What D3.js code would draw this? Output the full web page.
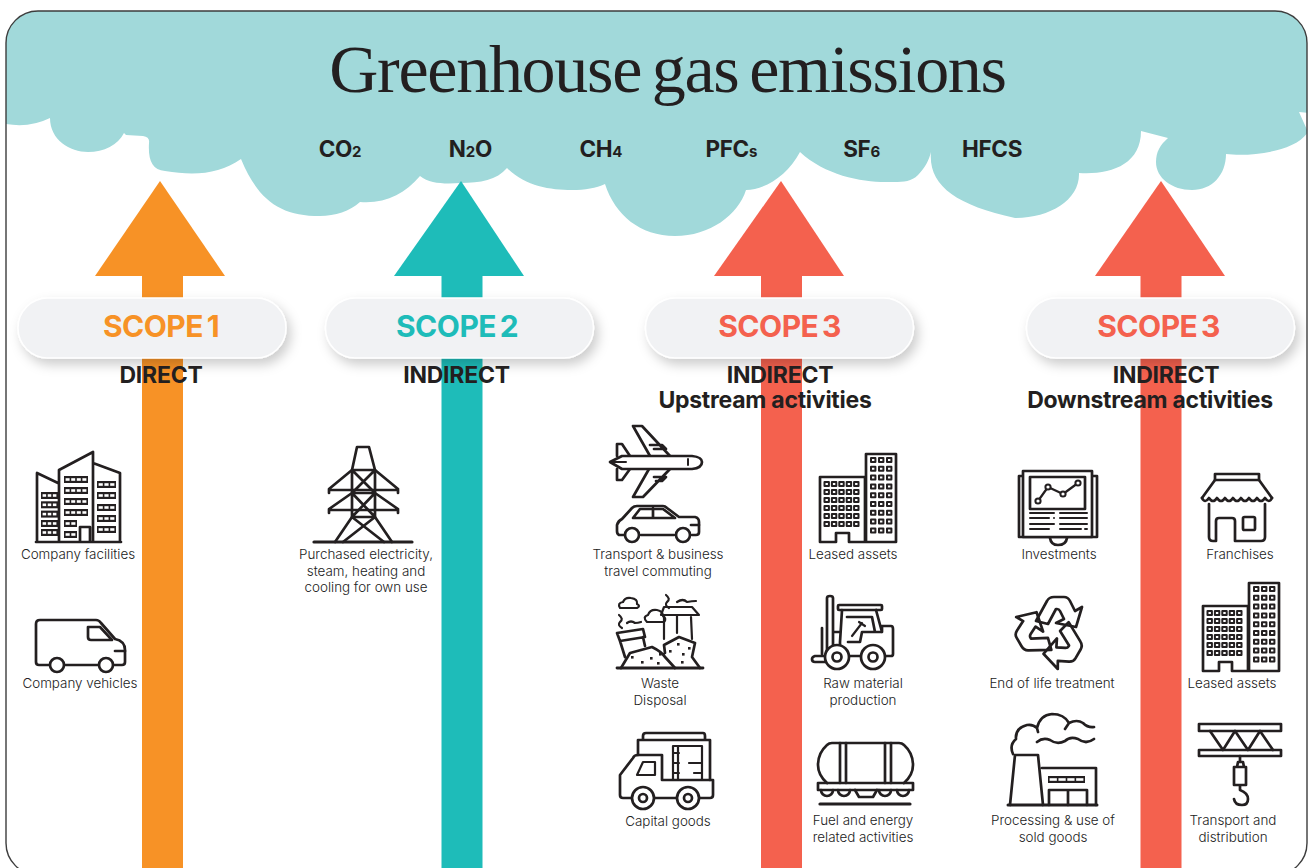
<!DOCTYPE html>
<html>
<head>
<meta charset="utf-8">
<style>
  html, body { margin: 0; background: #fff; }
  svg { display: block; }
</style>
<script src="https://cdn.jsdelivr.net/npm/d3@7"></script>
</head>
<body>
<script>
// values
const title = "Greenhouse gas emissions";
const gases = [["CO", "2"], ["N", "2", "O"], ["CH", "4"], ["PFC", "s"], ["SF", "6"], ["HFCS"]];
const scopes = ["s1", "s2", "s3up", "s3down"];
const scopeNames = ["SCOPE 1", "SCOPE 2", "SCOPE 3", "SCOPE 3"];
const scopeKinds = [["DIRECT"], ["INDIRECT"], ["INDIRECT", "Upstream activities"], ["INDIRECT", "Downstream activities"]];
const scopeColors = ["#f79226", "#1ebcb9", "#f4614e", "#f4614e"];
const items = [
  ["Company facilities"],
  ["Company vehicles"],
  ["Purchased electricity,", "steam, heating and", "cooling for own use"],
  ["Transport & business", "travel commuting"],
  ["Waste", "Disposal"],
  ["Capital goods"],
  ["Leased assets"],
  ["Raw material", "production"],
  ["Fuel and energy", "related activities"],
  ["Investments"],
  ["End of life treatment"],
  ["Processing & use of", "sold goods"],
  ["Franchises"],
  ["Leased assets"],
  ["Transport and", "distribution"],
];

const width = 1309;
const height = 868;
const ink = "#231f20";

const svg = d3.select("body").append("svg").attr("width", width).attr("height", height);
const defs = svg.append("defs");

const shadow = defs.append("filter").attr("id", "pillShadow")
  .attr("x", "-10%").attr("y", "-30%").attr("width", "120%").attr("height", "170%");
shadow.append("feDropShadow").attr("dx", 4).attr("dy", 6).attr("stdDeviation", 6)
  .attr("flood-color", "#000").attr("flood-opacity", 0.2);

const frame = { x: 6, y: 11, w: 1301, h: 864, r: 32 };
defs.append("clipPath").attr("id", "frameClip").append("rect")
  .attr("x", frame.x).attr("y", frame.y).attr("width", frame.w).attr("height", frame.h).attr("rx", frame.r);

// scales for the arrows and gas labels
const tipX = d3.scaleOrdinal().domain(scopes).range([160, 461, 781, 1161]);
const headX = d3.scaleOrdinal().domain(scopes).range([160, 459, 779, 1160]);
const shaftX = d3.scaleOrdinal().domain(scopes).range([162.5, 462, 781.5, 1161]);
const pillX = d3.scaleOrdinal().domain(scopes).range([152, 459.5, 779.5, 1160.5]);
const nameX = d3.scaleOrdinal().domain(scopes).range([161, 457, 779.5, 1158.5]);
const color = d3.scaleOrdinal().domain(scopes).range(scopeColors);
const gasX = d3.scalePoint().domain(gases.map((d) => d.join(""))).range([340, 992]);

const page = svg.append("g").attr("clip-path", "url(#frameClip)");

// cloud
page.append("path")
  .attr("fill", "#a1d9da")
  .attr("d", "M0 124 L6 124 Q30 128 50 118 C50 140 70 152 88 152 C104 152 118 145 124 133 L126 135 L143 136 Q150 137 149 143 " +
    "C148 160 152 170 165 171 C195 176 220 174 241 159 C258 200 280 216 320 216 C335 216 350 211 360 202 " +
    "C385 204 405 194 420 176 C430 184 445 184 461 183 C480 183 497 180 507 168 C525 186 550 190 572 190 " +
    "C585 190 596 188 605 184 C615 215 640 236 675 236 C710 236 738 215 746 190 C765 190 788 175 800 152 " +
    "C825 175 860 182 886 182 C900 182 910 183 918 175 C925 168 929 160 931 152 C928 185 955 205 1015 218 " +
    "C1050 218 1080 200 1079 173 C1110 175 1141 165 1141 131 L1168 138 C1160 145 1156 152 1156 162 " +
    "C1156 178 1172 190 1192 190 C1212 190 1226 175 1226 154 C1250 157 1295 152 1308 132 L1299 112 L1320 114 L1320 0 L0 0 Z");

// arrows
const arrowLine = d3.line();
const arrows = page.selectAll("g.arrow").data(scopes).enter().append("g").attr("class", "arrow");
arrows.append("path")
  .attr("fill", (d) => color(d))
  .attr("d", (d) => arrowLine([[tipX(d), 181], [headX(d) + 65, 276], [headX(d) - 65, 276]]) + "Z");
arrows.append("rect")
  .attr("x", (d) => shaftX(d) - 20.5)
  .attr("y", 275)
  .attr("width", 41)
  .attr("height", height - 275)
  .attr("fill", (d) => color(d));

// pills
const pills = page.selectAll("g.pill").data(scopes).enter().append("g").attr("class", "pill");
pills.append("rect")
  .attr("x", (d) => pillX(d) - 134)
  .attr("y", 298)
  .attr("width", 268)
  .attr("height", 60)
  .attr("rx", 30)
  .attr("fill", "#f1f2f4")
  .attr("stroke", "#fff")
  .attr("stroke-width", 1.5)
  .attr("filter", "url(#pillShadow)");

const labelFont = "Inter, 'Noto Sans', sans-serif";

pills.append("text")
  .attr("x", (d) => nameX(d))
  .attr("y", 337)
  .attr("text-anchor", "middle")
  .attr("font-family", labelFont)
  .attr("font-weight", 700)
  .attr("font-size", 30)
  .attr("letter-spacing", -0.5)
  .attr("word-spacing", -3)
  .attr("fill", (d) => color(d))
  .text((d, i) => scopeNames[i]);

// title and gases
page.append("text")
  .attr("x", 667.5).attr("y", 92)
  .attr("text-anchor", "middle")
  .attr("font-family", "'Liberation Serif', serif")
  .attr("font-size", 68)
  .attr("letter-spacing", -1.3)
  .attr("word-spacing", -5)
  .attr("fill", ink)
  .text(title);

const gasText = page.selectAll("text.gas").data(gases).enter().append("text")
  .attr("class", "gas")
  .attr("x", (d) => gasX(d.join("")))
  .attr("y", 157)
  .attr("text-anchor", "middle")
  .attr("font-family", labelFont)
  .attr("font-weight", 700)
  .attr("font-size", 22.5)
  .attr("letter-spacing", -0.3)
  .attr("fill", ink);
gasText.each(function (d) {
  const t = d3.select(this);
  d.forEach((part) => {
    const small = /^[0-9s]$/.test(part);
    t.append("tspan").attr("font-size", small ? 15 : null).text(part);
  });
});

// DIRECT / INDIRECT headings
const kindCx = [[161], [456.5], [780, 765], [1166, 1150]];
scopes.forEach((s, i) => {
  scopeKinds[i].forEach((line, j) => {
    page.append("text")
      .attr("x", kindCx[i][j])
      .attr("y", 383 + j * 25)
      .attr("text-anchor", "middle")
      .attr("font-family", labelFont)
      .attr("font-weight", 700)
      .attr("font-size", 23)
      .attr("letter-spacing", -0.25)
      .attr("fill", ink)
      .text(line);
  });
});

// item captions, in the order of items
const itemCx = [78, 80, 366, 658, 660, 668, 853, 863, 863, 1059, 1052, 1053, 1240, 1232, 1233];
const itemY = [559, 688, 559, 559, 688, 826, 559, 688, 825, 559, 688, 825, 559, 688, 825];
items.forEach((lines, i) => {
  lines.forEach((line, j) => {
    page.append("text")
      .attr("x", itemCx[i])
      .attr("y", itemY[i] + j * 16.7)
      .attr("text-anchor", "middle")
      .attr("font-family", labelFont)
      .attr("font-weight", 300)
      .attr("font-size", 13.4)
      .attr("fill", "#222")
      .text(line);
  });
});

// icon helpers
function icon(x, y) {
  return page.append("g").attr("transform", "translate(" + x + "," + y + ")")
    .attr("fill", "none").attr("stroke", ink).attr("stroke-width", 2.7)
    .attr("stroke-linejoin", "round").attr("stroke-linecap", "round");
}
const line = (g, d, w) => g.append("path").attr("d", d).attr("stroke-width", w || null);
const wheel = (g, cx, cy, r, inner) => {
  g.append("circle").attr("cx", cx).attr("cy", cy).attr("r", r).attr("fill", "#fff");
  if (inner) g.append("circle").attr("cx", cx).attr("cy", cy).attr("r", inner);
};
function windowRow(g, x, y, w, cells) {
  g.append("rect").attr("x", x).attr("y", y).attr("width", w).attr("height", 7).attr("fill", ink).attr("stroke", "none");
  const step = (w - 1.6) / cells;
  d3.range(cells).forEach((k) => {
    g.append("rect").attr("x", x + 1.6 + k * step).attr("y", y + 2.2).attr("width", step - 1.6).attr("height", 2.6)
      .attr("fill", "#fff").attr("stroke", "none");
  });
}
function tower(g) {
  line(g, "M1 22 L22 32 M1 91 V22 M23 91 V19 L57 1 V91 M57 12 L84 22 V91 M0 91 H85 M44 91 V76 H54 V91");
  [41, 50.3, 59.6, 69, 78].forEach((y) => windowRow(g, 5, y, 17, 3));
  [25, 36, 47, 58].forEach((y) => windowRow(g, 28, y, 24, 4));
  [69, 80].forEach((y) => windowRow(g, 28, y, 13, 2));
  [30, 41, 53, 64, 75].forEach((y) => windowRow(g, 61, y, 19, 3));
}
function leased(g) {
  line(g, "M46 89 V24 H1 V89 H17 V80 H30 V89 H46 M47 89 V1 H77 V89 Z");
  g.append("g").selectAll("rect").data(d3.cross(d3.range(5), d3.range(6))).enter().append("rect")
    .attr("x", (d) => 5.5 + d[0] * 7.4).attr("y", (d) => 29 + d[1] * 8)
    .attr("width", 4.4).attr("height", 4).attr("stroke-width", 2);
  g.append("g").selectAll("rect").data(d3.cross(d3.range(3), d3.range(9))).enter().append("rect")
    .attr("x", (d) => 52 + d[0] * 8).attr("y", (d) => 5 + d[1] * 8.8)
    .attr("width", 4.4).attr("height", 4).attr("stroke-width", 2);
}

// company facilities
tower(icon(36, 451));

// company vehicles
const van = icon(36, 618);
line(van, "M14 47 H3 Q0 47 0 44 V6 Q0 2 4 2 H60 Q63 2 65 5 L79 21 Q89 23 89 32 V44 Q89 47 86 47 H77 M63 47 H28");
line(van, "M52 9 H64 L76 22 H55 Q52 22 52 19 Z M79 33 H89");
wheel(van, 21, 47, 7);
wheel(van, 70, 47, 7);

// pylon
const pylon = icon(314, 446);
line(pylon, "M38 24 L43 1 H55 L61 24 M38 24 H61 V71 H38 Z M38 47 H61 M38 24 L61 47 M61 24 L38 47 M38 47 L61 71 M61 47 L38 71");
line(pylon, "M38 24 L15 43 V47 M15 44 H84 V47 M61 24 L84 43 M38 47 L15 63 V67 M15 64 H84 V67 M61 47 L84 63");
line(pylon, "M38 71 L21 96 M61 71 L78 96 M38 71 L70 96 M61 71 L29 96");
line(pylon, "M0 96 H98", 3.2);

// plane
const plane = icon(610, 425);
line(plane, "M7 31 L7 19 H12 L20 31 M7 44 V55 H12 L20 44");
line(plane, "M40 31 L23 1 H32 L60 31 M39 44 L23 72 H33 L60 44 M44 24 H56 L52 20 H40 M44 52 H56 L52 56 H46");
plane.append("path").attr("d", "M0 37 L12 31 H82 Q92 32 92 37 Q92 43 82 44 H12 Z").attr("fill", "#fff");
line(plane, "M78 34 V40 M2 37 H16", 2);

// car
const car = icon(617, 505);
line(car, "M8 30 H2 Q0 29 0 26 V20 Q1 16 5 14 L15 3 Q17 1 20 1 H46 Q48 1 50 3 L62 12 H78 Q82 13 82 17 V27 Q82 30 79 30 H75 M57 30 H24");
line(car, "M16 13 L23 4 H46 L58 13 Z M36 3 V13 M74 20 H82");
wheel(car, 15, 30, 7);
wheel(car, 66, 30, 7);

// waste
const waste = icon(617, 595);
line(waste, "M0 73 H86", 2.8);
line(waste, "M4 73 L13 58 L35 52 Q45 57 48 62 L58 73 M48 58 L47 50 L62 42 L78 48 L75 62 L83 73");
line(waste, "M0 38 L26 34 L28 42 L3 46 Z M3 46 L8 62 M26 42 L28 51");
line(waste, "M47 44 V22 M60 20 V38 M74 22 L75 44 M47 12 H75 L82 20 H44 Z", 2.2);
line(waste, "M3 13 Q0 8 6 7 Q8 2 14 3 Q21 4 20 9 Q24 11 20 13 Z M30 27 Q25 22 31 20 Q33 14 40 15 Q46 16 46 21 Q50 24 47 27 Z", 2.2);
line(waste, "M49 0 Q54 4 50 7 Q47 10 52 13 M2 20 Q7 24 3 27 Q0 30 5 33 M60 7 Q66 3 70 7 Q75 6 79 6 M10 28 Q14 25 18 28 Q21 28 24 27", 2.2);
[[14, 61], [24, 66], [33, 62], [42, 58], [52, 55], [60, 48], [65, 58], [71, 52], [64, 66], [40, 67]].forEach((d) => {
  waste.append("rect").attr("x", d[0]).attr("y", d[1]).attr("width", 2.6).attr("height", 2.6).attr("fill", ink).attr("stroke", "none");
});

// capital goods truck
const truck = icon(619, 733);
line(truck, "M19 22 V7 H91 V47 M24 7 V3 Q24 0 27 0 H84 Q86 0 86 3 V7");
line(truck, "M43 22 H19 Q15 22 14 25 L1 42 V62 Q1 65 4 65 H12 M43 22 V47 H94 V62 Q94 65 91 65 H81 M33 65 H57");
line(truck, "M18 42 L24 29 H36 V42 Z M54 47 V13 H83 V47 M54 20 H60 M54 30 H60 M54 40 H60 M70 30 H83 M75 40 H83 M59 13 V47", 2.2);
wheel(truck, 24, 65, 11, 4);
wheel(truck, 69, 65, 11, 4);

// leased assets, upstream
leased(icon(819, 453));

// forklift
const lift = icon(812, 596);
line(lift, "M15 66 V2 Q15 0 18 0 Q21 0 21 2 V56 M15 66 H3 Q0 66 0 63 Q0 61 3 60 H14 M10 32 V58 M21 36 H28");
lift.append("rect").attr("x", 26).attr("y", 9).attr("width", 44).attr("height", 5).attr("rx", 1);
line(lift, "M30 14 L28 46 V54 M64 14 L70 36 V30 H79 Q81 30 81 33 V58 Q81 60 79 60 H74 M36 46 H48 L50 36 H70 M37 60 H49 M35 21 H60 L63 36");
line(lift, "M40 40 L50 27 M47 26 L53 30", 2.2);
wheel(lift, 25, 61, 12, 4.5);
wheel(lift, 61, 61, 12, 4.5);

// tanker wagon
const tank = icon(817, 743);
line(tank, "M10 40 Q1 32 1 22 Q1 10 10 2 Q12 0 15 0 H82 Q85 0 87 2 Q96 10 96 22 Q96 32 87 40");
line(tank, "M23 0 V40 M29 0 V40 M68 0 V40 M74 0 V40");
tank.append("rect").attr("x", 1).attr("y", 40).attr("width", 95).attr("height", 7);
line(tank, "M38 47 L42 54 H56 L60 47");
line(tank, "M4 47 A6 6 0 0 0 16 47 M21 47 A6 6 0 0 0 33 47 M62 47 A6 6 0 0 0 74 47 M80 47 A6 6 0 0 0 92 47");
line(tank, "M3 61 H93", 3.2);

// investments
const inv = icon(1019, 471);
line(inv, "M4 5 H0 V66 H78 V5 H73");
inv.append("rect").attr("x", 4).attr("y", 0).attr("width", 69).attr("height", 66).attr("fill", "#fff");
inv.append("rect").attr("x", 11).attr("y", 6).attr("width", 55).attr("height", 32);
line(inv, "M19 30 L29 16 L44 23 L59 12", 2.2);
[[19, 30], [29, 16], [44, 23], [59, 12]].forEach((d) => {
  inv.append("circle").attr("cx", d[0]).attr("cy", d[1]).attr("r", 2.6).attr("fill", "#fff").attr("stroke-width", 2);
});
line(inv, "M11 42 H35 M41 42 H68 M11 47 H30 M35 47 H35 M41 47 H68 M11 53 H35 M41 53 H68 M11 58 H30 M41 58 H62 M66 58 H68", 2);
line(inv, "M31 67 Q32 74 39 74 Q47 74 48 67");

// recycling, one bent arrow turned three times
const rec = icon(1052, 631);
[0, 120, 240].forEach((rot) => {
  rec.append("path")
    .attr("transform", "rotate(" + rot + ")")
    .attr("d", "M-16 -10 L-5 -30 Q-3 -34 2 -34 H12 Q16 -34 18 -30 L23 -20 L30 -24 L24 -4 L4 -8 L12 -12 L8 -20 Q7 -22 5 -22 H4 L-4 -7 Z");
});

// factory
const fac = icon(1007, 714);
line(fac, "M1 91 H90", 3);
line(fac, "M3 91 L8 41 H31 L36 91 M35 54 H89 V91 M42 91 V76 H80 V91 M61 76 V91");
line(fac, "M6 40 Q2 31 9 25 Q8 14 20 11 Q26 10 30 14 Q33 1 45 0 Q57 0 62 9 Q70 5 76 9 Q81 14 87 13 M30 28 Q36 23 43 26 Q50 31 58 27 Q63 22 71 25 Q79 31 87 25 M30 14 L31 18 M62 9 L58 15");
windowRow(fac, 41, 62, 37, 4);

// franchises
const store = icon(1200, 474);
store.append("rect").attr("x", 15).attr("y", 0).attr("width", 44).attr("height", 6);
line(store, "M15 6 L2 24 M59 6 L72 24 M9 30 V63 Q9 67 13 67 H16 V47 Q16 44 19 44 H32 Q35 44 35 47 V67 H61 Q65 67 65 63 V30");
line(store, "M2 24 Q5 30 9 24 Q13 30 17 24 Q21 30 25 24 Q29 30 33 24 Q37 30 41 24 Q45 30 49 24 Q53 30 57 24 Q61 30 65 24 Q69 30 72 24");
store.append("rect").attr("x", 43).attr("y", 43).attr("width", 12).attr("height", 13).attr("rx", 1.5);

// leased assets, downstream
leased(icon(1202, 582));

// crane
const crane = icon(1199, 724);
crane.append("rect").attr("x", 0).attr("y", 0).attr("width", 82).attr("height", 7);
crane.append("rect").attr("x", 0).attr("y", 26).attr("width", 82).attr("height", 6);
line(crane, "M11 7 L24 26 L36 7 L49 26 L61 7 L74 26");
line(crane, "M41 32 V38 M38 43 L39 38 H44 L45 43 M35 43 H47 V61 H35 Z M41 61 V66 Q49 69 49 75 Q49 81 43 81 Q36 81 35 75");

// frame on top
svg.append("rect")
  .attr("x", frame.x).attr("y", frame.y).attr("width", frame.w).attr("height", frame.h).attr("rx", frame.r)
  .attr("fill", "none").attr("stroke", "#3d3d3d").attr("stroke-width", 1.4);
</script>
</body>
</html>
